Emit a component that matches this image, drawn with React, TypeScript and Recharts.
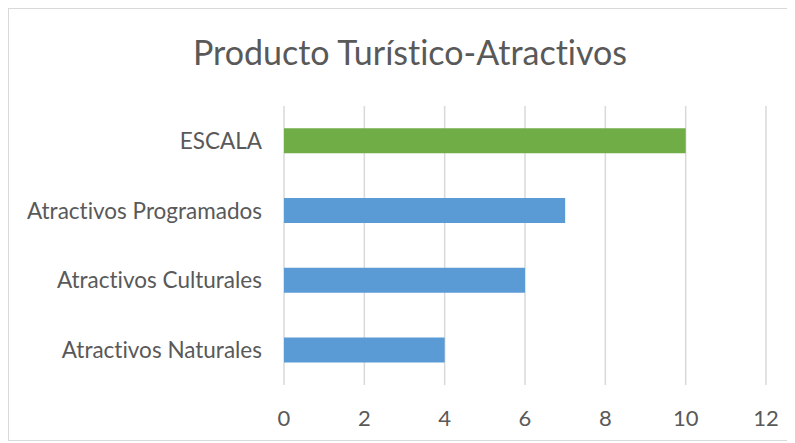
import { BarChart, Bar, XAxis, YAxis, CartesianGrid, Cell } from "recharts"

const categories = ["ESCALA", "Atractivos Programados", "Atractivos Culturales", "Atractivos Naturales"]
const values = [10, 7, 6, 4]
const xTicks = [0, 2, 4, 6, 8, 10, 12]

const BLUE = "#5B9BD5"
const GREEN = "#70AD47"
const TEXT = "#595959"

const data = categories.map((name, i) => ({ name, value: values[i] }))

export default function App() {
  return (
    <div
      style={{
        position: "relative",
        width: 782,
        height: 431,
        border: "1px solid #D9D9D9",
        background: "#fff",
        fontFamily: "Lato, 'Open Sans', sans-serif",
        fontVariantLigatures: "none",
      }}
    >
      <div
        style={{
          position: "absolute",
          top: 21,
          left: 10,
          width: 782,
          textAlign: "center",
          fontSize: 34,
          lineHeight: "44px",
          color: TEXT,
        }}
      >
        Producto Turístico-Atractivos
      </div>
      <BarChart
        width={782}
        height={431}
        data={data}
        layout="vertical"
        margin={{ top: 97, right: 25, left: 0, bottom: 0 }}
        barCategoryGap="32%"
      >
        <CartesianGrid horizontal={false} stroke="#D9D9D9" strokeWidth={1.5} />
        <XAxis
          type="number"
          domain={[0, 12]}
          ticks={xTicks}
          height={55}
          axisLine={false}
          tickLine={false}
          tickSize={6}
          tickMargin={19}
          tick={{ fill: TEXT, fontSize: 22 }}
        />
        <YAxis
          type="category"
          dataKey="name"
          width={275}
          axisLine={false}
          tickLine={false}
          tickSize={8}
          tickMargin={14}
          tick={{ fill: TEXT, fontSize: 22.5 }}
        />
        <Bar dataKey="value" isAnimationActive={false}>
          {data.map((d) => (
            <Cell key={d.name} fill={d.name === "ESCALA" ? GREEN : BLUE} />
          ))}
        </Bar>
      </BarChart>
    </div>
  )
}
